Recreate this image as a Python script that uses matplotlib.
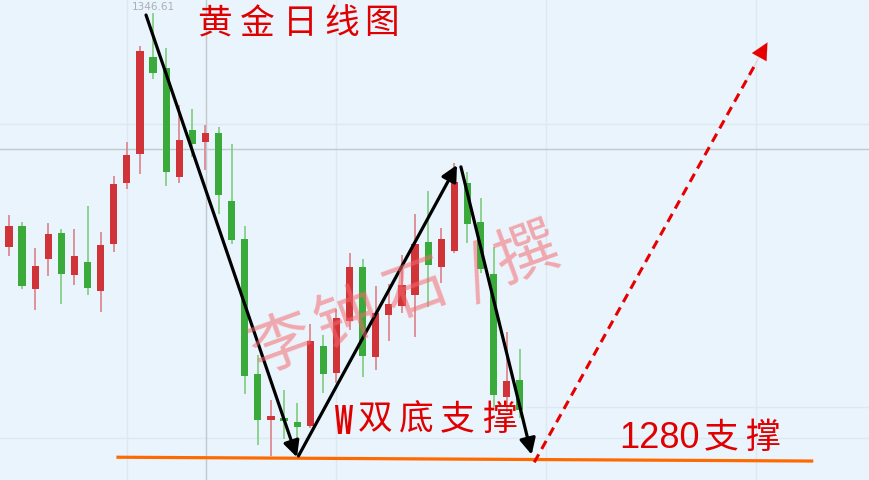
import numpy as np
import matplotlib
matplotlib.use("Agg")
from matplotlib import pyplot as plt
from matplotlib.textpath import TextPath
from matplotlib.patches import PathPatch
from matplotlib.font_manager import FontProperties
from matplotlib.transforms import Affine2D

# daily gold candles (open, high, low, close)
opens = [1309.95, 1313.24, 1303.36, 1308.06, 1312.14, 1305.56, 1307.59, 1303.05,
         1310.42, 1319.97, 1324.52, 1339.72, 1337.99, 1320.91, 1328.28, 1326.40,
         1327.81, 1317.15, 1311.20, 1290.04, 1282.84, 1283.15, 1282.52, 1281.90,
         1294.43, 1290.20, 1298.35, 1306.81, 1292.71, 1299.29, 1300.70, 1302.42,
         1310.73, 1306.81, 1309.32, 1319.97, 1313.86, 1305.71, 1286.44, 1289.10]
highs = [1314.96, 1313.86, 1309.79, 1313.71, 1312.77, 1312.77, 1316.37, 1312.30,
         1321.07, 1326.40, 1341.44, 1346.61, 1341.13, 1332.20, 1331.57, 1329.06,
         1328.75, 1326.09, 1313.24, 1293.02, 1285.97, 1287.54, 1285.50, 1297.88,
         1296.16, 1300.23, 1309.00, 1308.06, 1303.83, 1304.15, 1308.69, 1315.12,
         1318.72, 1312.92, 1323.11, 1321.70, 1317.62, 1309.95, 1296.63, 1293.96]
lows = [1308.53, 1303.36, 1300.07, 1305.40, 1301.01, 1303.99, 1302.42, 1299.76,
        1309.16, 1319.03, 1321.38, 1336.27, 1319.50, 1319.97, 1324.05, 1322.01,
        1315.12, 1310.42, 1286.91, 1278.92, 1277.19, 1279.86, 1277.35, 1281.58,
        1287.07, 1288.63, 1296.94, 1289.57, 1290.67, 1295.22, 1299.60, 1295.84,
        1300.54, 1304.30, 1309.00, 1310.57, 1305.87, 1284.87, 1284.09, 1283.15]
closes = [1313.24, 1303.83, 1306.97, 1311.98, 1305.71, 1308.53, 1303.52, 1310.26,
          1319.82, 1324.36, 1340.66, 1337.21, 1321.70, 1326.71, 1326.09, 1327.81,
          1318.09, 1311.04, 1289.73, 1282.84, 1283.46, 1282.68, 1281.74, 1295.22,
          1290.04, 1298.82, 1306.81, 1292.86, 1299.60, 1301.01, 1303.99, 1310.42,
          1307.12, 1311.20, 1320.13, 1313.55, 1306.50, 1286.75, 1288.95, 1284.40]

high_label = "1346.61"
support_price = 1280
title = "黄金日线图"
w_label = "W双底支撑"
support_label = "支撑"
watermark = ["李", "钟", "石", "/", "撰"]

# pattern legs (bar index, price)
down1 = [(10.46, 1346.3), (21.98, 1277.0)]
up1 = [(22.1, 1277.2), (34.2, 1322.8)]
down2 = [(34.5, 1322.5), (39.9, 1277.4)]
target = [(40.1, 1276.2), (57.9, 1342.0)]
support_line = [(8.2, 1277.0), (61.4, 1276.4)]

BG = "#eaf4fc"
RED = "#d03438"
RED_WICK = "#dc8a90"
GREEN = "#3aaa3a"
GREEN_WICK = "#86cf86"
TXT = "#e00000"

W, H = 870, 480
fig = plt.figure(figsize=(W / 100, H / 100), dpi=100)
fig.patch.set_facecolor(BG)
ax = fig.add_axes([0, 0, 1, 1])
ax.set_facecolor(BG)
ax.set_xlim(-0.687, 65.73)
ax.set_ylim(1273.43, 1348.65)
ax.axis("off")

# grid + crosshair
for xv in [9, 25, 41, 57]:
    ax.axvline(xv, color="#dde8f2", lw=1, zorder=0)
for yv in [1329.2, 1280.0]:
    ax.axhline(yv, color="#dde8f2", lw=1, zorder=0)
ax.plot([39.5, 65.73], [1284.9, 1284.9], color="#dde8f2", lw=1, zorder=0)
ax.axvline(15.04, color="#c2c8ce", lw=1, zorder=0)
ax.axhline(1325.3, color="#c2c8ce", lw=1, zorder=0)

# candles
o = np.array(opens)
c = np.array(closes)
x = np.arange(len(o))
up = c >= o
ax.vlines(x[up], np.array(lows)[up], np.array(highs)[up], color=RED_WICK, lw=1.3, zorder=2)
ax.vlines(x[~up], np.array(lows)[~up], np.array(highs)[~up], color=GREEN_WICK, lw=1.3, zorder=2)
ax.bar(x[up], (c - o)[up], bottom=o[up], width=0.55, color=RED, zorder=3)
ax.bar(x[~up], (o - c)[~up], bottom=c[~up], width=0.55, color=GREEN, zorder=3)

ax.text(11, 1347.6, high_label, ha="center", va="center", fontsize=7.5,
        color="#a9aeb3", family="DejaVu Sans")

# watermark
wm_pos = [(282, 345), (347, 320), (416, 291), (477, 274), (527, 255)]
for ch, (px, py) in zip(watermark, wm_pos):
    fig.text(px / W, 1 - py / H, ch, ha="center", va="center", fontsize=45,
             rotation=20, color="#f5696e", alpha=0.55, family="Noto Sans CJK SC", zorder=5)

# support line
ax.plot(*zip(*support_line), color="#ff6a00", lw=2.3, zorder=6, solid_capstyle="butt")

# black arrows
for leg in [down1, up1, down2]:
    ax.annotate("", xy=leg[1], xytext=leg[0],
                arrowprops=dict(arrowstyle="-|>", color="black", lw=2.3,
                                mutation_scale=24, shrinkA=0, shrinkB=0), zorder=7)

# red dashed target arrow
(x0, y0), (x1, y1) = target
ax.plot([x0, x0 + (x1 - x0) * 0.95], [y0, y0 + (y1 - y0) * 0.95], color="#e60000",
        lw=2.2, ls=(0, (3, 2)), zorder=7)
ax.annotate("", xy=(x1, y1), xytext=(x0 + (x1 - x0) * 0.9, y0 + (y1 - y0) * 0.9),
            arrowprops=dict(arrowstyle="-|>", color="#e60000", lw=0.1,
                            mutation_scale=30, shrinkA=0, shrinkB=0), zorder=7)

# labels
for ch, px in zip(title, [215, 257, 300, 342, 382]):
    fig.text(px / W, 1 - 24 / H, ch, ha="center", va="center", fontsize=25,
             color=TXT, family="Noto Sans CJK SC")

# condensed bold "W" drawn as a squeezed text path (pixel box 335..353 x 405..434)
tp = TextPath((0, 0), w_label[0], size=40,
              prop=FontProperties(family="DejaVu Sans", weight="bold"))
bb = tp.get_extents()
squeeze = (Affine2D().translate(-bb.x0, -bb.y0)
           .scale(18 / bb.width, 29 / bb.height).translate(335, H - 434))
fig.add_artist(PathPatch(tp, transform=squeeze, color=TXT, lw=0, zorder=8))
for ch, px in zip(w_label[1:], [375, 416, 457, 499]):
    fig.text(px / W, 1 - 420 / H, ch, ha="center", va="center", fontsize=25,
             color=TXT, family="Noto Sans CJK SC")

fig.text(660 / W, 1 - 439 / H, str(support_price), ha="center", va="center",
         fontsize=26, color=TXT, family="Liberation Sans")
for ch, px in zip(support_label, [721, 762]):
    fig.text(px / W, 1 - 438 / H, ch, ha="center", va="center", fontsize=25,
             color=TXT, family="Noto Sans CJK SC")

fig.savefig("out.png", dpi=100, facecolor=BG)
